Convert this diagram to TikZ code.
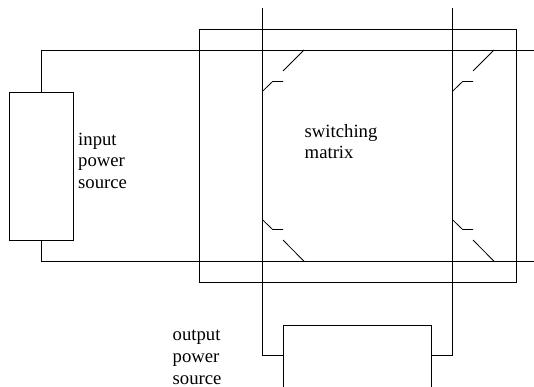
\documentclass[tikz,border=0pt]{standalone}
\usepackage{fontspec}
\setmainfont{Liberation Serif}
\tikzset{
  wire/.style={draw=black,line width=0.8pt,line join=miter},
  boxed/.style={wire,rectangle,inner sep=0pt,anchor=north west},
  lbl/.style={inner sep=0pt,anchor=north west,align=left,font=\fontsize{18.7}{21.8}\selectfont},
}
\begin{document}
\begin{tikzpicture}[x=1pt,y=-1pt]
\useasboundingbox (0,0) rectangle (534,387);
\clip (0,0) rectangle (534,387);
% matrix frame
\node[boxed,minimum width=316.5pt,minimum height=253pt] (matrix) at (199,29) {};
% terminals
\coordinate (busTopEnd) at (534,50);
\coordinate (busBotEnd) at (534,261.3);
\coordinate (colATop) at (262.3,8);
\coordinate (colBTop) at (452.3,8);
% sources
\node[boxed,minimum width=63.5pt,minimum height=148pt] (input) at (9,92) {};
\node[boxed,minimum width=148pt,minimum height=80pt] (output) at (283,324.5) {};
% input wires
\coordinate (inT) at (41,92);
\coordinate (inB) at (41,240);
\draw[wire] (inT) |- (busTopEnd);
\draw[wire] (inB) |- (busBotEnd);
% output wires
\coordinate (outL) at (283,355.7);
\coordinate (outR) at (431,355.7);
\draw[wire] (colATop) |- (outL);
\draw[wire] (colBTop) |- (outR);
% switches, column A
\coordinate (a1) at (304,50); \coordinate (a2) at (283,71);
\coordinate (a3) at (283,81.5); \coordinate (a4) at (272.6,81.5); \coordinate (a5) at (262.3,91.5);
\draw[wire] (a1) -- (a2);
\draw[wire] (a3) -- (a4) -- (a5);
\coordinate (b1) at (304,261.3); \coordinate (b2) at (283,240);
\coordinate (b3) at (283,229.5); \coordinate (b4) at (272.6,229.5); \coordinate (b5) at (262.3,219.5);
\draw[wire] (b1) -- (b2);
\draw[wire] (b3) -- (b4) -- (b5);
% switches, column B
\coordinate (c1) at (494,50); \coordinate (c2) at (473,71);
\coordinate (c3) at (473,81.5); \coordinate (c4) at (462.6,81.5); \coordinate (c5) at (452.3,91.5);
\draw[wire] (c1) -- (c2);
\draw[wire] (c3) -- (c4) -- (c5);
\coordinate (d1) at (494,261.3); \coordinate (d2) at (473,240);
\coordinate (d3) at (473,229.5); \coordinate (d4) at (462.6,229.5); \coordinate (d5) at (452.3,219.5);
\draw[wire] (d1) -- (d2);
\draw[wire] (d3) -- (d4) -- (d5);
% labels
\node[lbl] (inputLabel) at (78,132.5) {input\\power\\source};
\node[lbl] (matrixLabel) at (304.5,124) {switching\\matrix};
\node[lbl] (outputLabel) at (172.5,330) {output\\power\\source};
\end{tikzpicture}
\end{document}
